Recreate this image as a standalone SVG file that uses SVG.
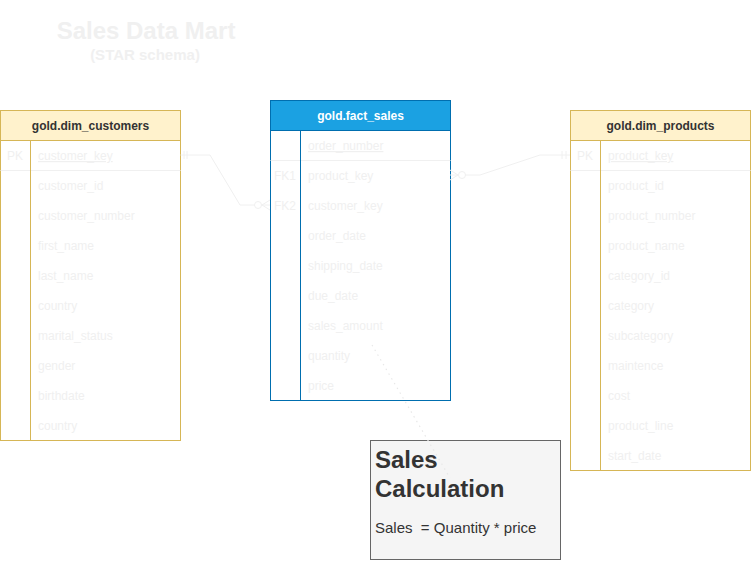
<svg xmlns="http://www.w3.org/2000/svg" width="751" height="561" viewBox="0 0 751 561">
<style>
.t{font-family:"Liberation Sans",Arial,sans-serif}
.row{font-size:12px;fill:#f0f0f0}
.key{font-size:12px;fill:#f0f0f0;text-decoration:underline}
.hdr{font-size:12px;font-weight:bold;text-anchor:middle}
.ybox{fill:#fff;stroke:#d6b656;stroke-width:1}
.yhdr{fill:#fff2cc;stroke:#d6b656;stroke-width:1}
.bbox{fill:#fff;stroke:#006eaf;stroke-width:1}
.bhdr{fill:#1ba1e2;stroke:#006eaf;stroke-width:1}
.sep{stroke:#f0f0f0;stroke-width:1}
.conn{fill:none;stroke:#f0f0f0;stroke-width:1}
</style>
<rect width="751" height="561" fill="#fff"/>
<g id="title" class="t">
<text x="146" y="39" text-anchor="middle" font-size="24" font-weight="bold" fill="#f0f0f0">Sales Data Mart</text>
<text x="145" y="60" text-anchor="middle" font-size="15" font-weight="bold" fill="#f0f0f0">(STAR schema)</text>
</g>
<g id="dim_customers" class="t">
<rect class="ybox" x="0.5" y="110.5" width="180" height="330"/>
<rect class="yhdr" x="0.5" y="110.5" width="180" height="30"/>
<line class="sep" x1="0.5" y1="170.5" x2="180.5" y2="170.5"/>
<line x1="30.5" y1="140.5" x2="30.5" y2="440.5" stroke="#d6b656"/>
<text class="hdr" x="90.5" y="130" fill="#333">gold.dim_customers</text>
<text class="row" x="7" y="160">PK</text>
<text class="key" x="38" y="160">customer_key</text>
<text class="row" x="38" y="190">customer_id</text>
<text class="row" x="38" y="220">customer_number</text>
<text class="row" x="38" y="250">first_name</text>
<text class="row" x="38" y="280">last_name</text>
<text class="row" x="38" y="310">country</text>
<text class="row" x="38" y="340">marital_status</text>
<text class="row" x="38" y="370">gender</text>
<text class="row" x="38" y="400">birthdate</text>
<text class="row" x="38" y="430">country</text>
</g>
<g id="fact_sales" class="t">
<rect class="bbox" x="270.5" y="100.5" width="180" height="300"/>
<rect class="bhdr" x="270.5" y="100.5" width="180" height="30"/>
<line class="sep" x1="270.5" y1="160.5" x2="450.5" y2="160.5"/>
<line x1="300.5" y1="130.5" x2="300.5" y2="400.5" stroke="#006eaf"/>
<text class="hdr" x="360.5" y="120" fill="#fff">gold.fact_sales</text>
<text class="key" x="308" y="150">order_number</text>
<text class="row" x="274" y="180">FK1</text>
<text class="row" x="308" y="180">product_key</text>
<text class="row" x="274" y="210">FK2</text>
<text class="row" x="308" y="210">customer_key</text>
<text class="row" x="308" y="240">order_date</text>
<text class="row" x="308" y="270">shipping_date</text>
<text class="row" x="308" y="300">due_date</text>
<text class="row" x="308" y="330">sales_amount</text>
<text class="row" x="308" y="360">quantity</text>
<text class="row" x="308" y="390">price</text>
</g>
<g id="dim_products" class="t">
<rect class="ybox" x="570.5" y="110.5" width="180" height="360"/>
<rect class="yhdr" x="570.5" y="110.5" width="180" height="30"/>
<line class="sep" x1="570.5" y1="170.5" x2="750.5" y2="170.5"/>
<line x1="600.5" y1="140.5" x2="600.5" y2="470.5" stroke="#d6b656"/>
<text class="hdr" x="660.5" y="130" fill="#333">gold.dim_products</text>
<text class="row" x="577" y="160">PK</text>
<text class="key" x="608" y="160">product_key</text>
<text class="row" x="608" y="190">product_id</text>
<text class="row" x="608" y="220">product_number</text>
<text class="row" x="608" y="250">product_name</text>
<text class="row" x="608" y="280">category_id</text>
<text class="row" x="608" y="310">category</text>
<text class="row" x="608" y="340">subcategory</text>
<text class="row" x="608" y="370">maintence</text>
<text class="row" x="608" y="400">cost</text>
<text class="row" x="608" y="430">product_line</text>
<text class="row" x="608" y="460">start_date</text>
</g>
<g id="note" class="t">
<rect x="370.5" y="440.5" width="190" height="119" fill="#f5f5f5" stroke="#666"/>
<text x="375" y="468" font-size="24" font-weight="bold" fill="#333">Sales</text>
<text x="375" y="497" font-size="24" font-weight="bold" fill="#333">Calculation</text>
<text x="375" y="533" font-size="15" fill="#333" xml:space="preserve">Sales  = Quantity * price</text>
</g>
<g id="connectors">
<path class="conn" d="M180.5,155 H210 L240,205 H270"/>
<path class="conn" d="M184,151 V159 M187,151 V159"/>
<circle cx="258" cy="205" r="3.5" fill="#fff" stroke="#f0f0f0"/>
<path class="conn" d="M262,205 L270,200 M262,205 L270,210"/>
<path class="conn" d="M450,175 H480 L540,155 H570"/>
<circle cx="462" cy="175" r="3.5" fill="#fff" stroke="#f0f0f0"/>
<path class="conn" d="M458,175 L450,170 M458,175 L450,180"/>
<path class="conn" d="M562,151 V159 M566,151 V159"/>
<path d="M372,345 L450,478" fill="none" stroke="#e8e8e8" stroke-width="1.2" stroke-dasharray="1.5 4"/>
</g>
</svg>
